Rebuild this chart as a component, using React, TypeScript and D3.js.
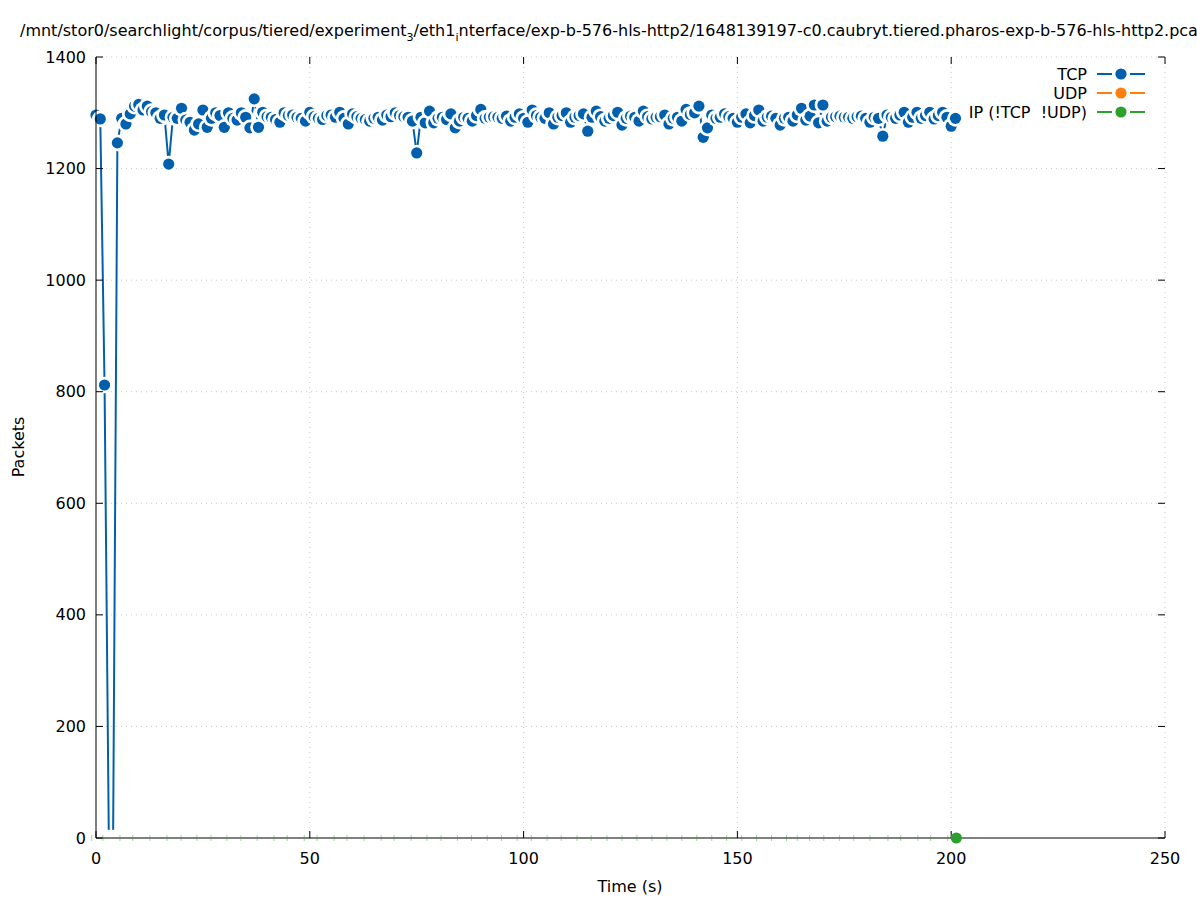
import React from 'react';
import * as d3 from 'd3';

// packets per second, one sample per second starting at t=0
const TCP_PACKETS = [
  1296, 1289, 812, 0, 0, 1246, 1290, 1280, 1298, 1312,
  1315, 1305, 1312, 1302, 1300, 1290, 1296, 1208, 1292, 1290,
  1308, 1287, 1283, 1269, 1280, 1305, 1274, 1290, 1300, 1295,
  1274, 1300, 1290, 1287, 1300, 1292, 1273, 1325, 1274, 1301,
  1293, 1292, 1288, 1283, 1300, 1295, 1296, 1292, 1290, 1285,
  1301, 1293, 1290, 1288, 1295, 1296, 1292, 1301, 1290, 1280,
  1298, 1293, 1290, 1288, 1285, 1290, 1292, 1287, 1296, 1293,
  1300, 1295, 1293, 1292, 1285, 1228, 1292, 1282, 1303, 1282,
  1290, 1292, 1288, 1298, 1273, 1285, 1292, 1290, 1285, 1295,
  1306, 1290, 1292, 1293, 1292, 1290, 1294, 1285, 1292, 1298,
  1290, 1283, 1305, 1295, 1292, 1290, 1300, 1280, 1292, 1295,
  1300, 1283, 1292, 1295, 1298, 1267, 1292, 1303, 1293, 1285,
  1290, 1295, 1301, 1278, 1290, 1294, 1292, 1285, 1303, 1293,
  1289, 1292, 1293, 1296, 1280, 1290, 1292, 1285, 1306, 1297,
  1300, 1312, 1256, 1273, 1296, 1290, 1292, 1298, 1293, 1290,
  1283, 1292, 1298, 1282, 1295, 1305, 1285, 1292, 1294, 1290,
  1278, 1290, 1292, 1285, 1296, 1308, 1287, 1294, 1314, 1282,
  1314, 1285, 1292, 1293, 1294, 1292, 1292, 1290, 1293, 1294,
  1290, 1283, 1292, 1290, 1258, 1296, 1292, 1290, 1296, 1301,
  1283, 1292, 1301, 1290, 1295, 1301, 1289, 1295, 1301, 1292,
  1276, 1290
];

// IP (!TCP !UDP): zero samples, visible only as faint marks on the axis
const IP_OTHER_TIMES = [
  -1, 1.6, 5.6, 8.6, 12.6, 16.6, 19.9, 23.6, 26.9, 30.6, 33.9, 37.7, 41.6, 44.7,
  48.7, 51.7, 55.7, 58.7, 62.7, 66.7, 69.7, 73.7, 77.4, 80.7, 84.5, 87.8, 91.5,
  94.8, 98.5, 101.8, 105.5, 108.8, 112.5, 115.8, 119.5, 123, 126.5, 130, 133.5,
  137, 140.5, 144, 147.5, 151, 154.5, 158, 161.5, 164, 166.9, 170.2, 173.9,
  177.2, 181, 185.2, 188.2, 192.2, 195.2, 199.2
];
const IP_OTHER_LAST = { t: 201.2, v: 0 };

const X_TICKS = [0, 50, 100, 150, 200, 250];
const Y_TICKS = [0, 200, 400, 600, 800, 1000, 1200, 1400];

const LEGEND = [
  { label: 'TCP', color: '#0060ad' },
  { label: 'UDP', color: '#ff7f0e' },
  { label: 'IP (!TCP\u00a0\u00a0!UDP)', color: '#2ca02c' },
];

const FONT = 'DejaVu Sans, sans-serif';
const W = 1197;
const H = 900;
const plot = { left: 96, right: 1165, top: 57, bottom: 838 };
const TICK = 7;

const App: React.FC = () => {
  const x = d3.scaleLinear().domain([0, 250]).range([plot.left, plot.right]);
  const y = d3.scaleLinear().domain([0, 1400]).range([plot.bottom, plot.top]);

  const tcp = TCP_PACKETS.map((v, i) => ({ t: i, v }));
  const line = d3.line<{ t: number; v: number }>()
    .x(d => x(d.t))
    .y(d => y(d.v));

  return (
    <svg width={W} height={H} style={{ position: 'absolute', left: 0, top: 0, background: '#fff' }}
      fontFamily={FONT}>
      {/* grid */}
      <g stroke="#c8c8c8" strokeWidth={1} strokeDasharray="1,4">
        {X_TICKS.filter(t => t > 0).map(t => (
          <line key={'gx' + t} x1={x(t)} x2={x(t)} y1={plot.top} y2={plot.bottom} />
        ))}
        {Y_TICKS.filter(t => t > 0).map(t => (
          <line key={'gy' + t} x1={plot.left} x2={plot.right} y1={y(t)} y2={y(t)} />
        ))}
      </g>

      {/* TCP line + points (white halo under each point hides the line ends) */}
      <path d={line(tcp) || ''} fill="none" stroke="#0060ad" strokeWidth={2} strokeLinejoin="round" />
      {tcp.map(d => (
        <g key={'p' + d.t}>
          <circle cx={x(d.t)} cy={y(d.v)} r={8.3} fill="#fff" />
          {d.v > 0 && <circle cx={x(d.t)} cy={y(d.v)} r={5.6} fill="#0060ad" />}
        </g>
      ))}

      {/* border (left + bottom) and mirrored ticks */}
      <g stroke="#000" strokeWidth={1}>
        <line x1={plot.left} x2={plot.left} y1={plot.top} y2={plot.bottom} />
        <line x1={plot.left} x2={plot.right} y1={plot.bottom} y2={plot.bottom} />
        {Y_TICKS.map(t => (
          <g key={'ty' + t}>
            <line x1={plot.left} x2={plot.left + TICK} y1={y(t)} y2={y(t)} />
            <line x1={plot.right - TICK} x2={plot.right} y1={y(t)} y2={y(t)} />
          </g>
        ))}
        {X_TICKS.map(t => (
          <g key={'tx' + t}>
            <line x1={x(t)} x2={x(t)} y1={plot.bottom} y2={plot.bottom - TICK} />
            <line x1={x(t)} x2={x(t)} y1={plot.top} y2={plot.top + TICK} />
          </g>
        ))}
      </g>

      {/* IP other series */}
      <g stroke="#2ca02c" strokeOpacity={0.45} strokeWidth={1}>
        {IP_OTHER_TIMES.map(t => (
          <line key={'ip' + t} x1={x(t)} x2={x(t)} y1={y(0) - 3} y2={y(0) + 3} />
        ))}
      </g>
      <circle cx={x(IP_OTHER_LAST.t)} cy={y(IP_OTHER_LAST.v)} r={5.6} fill="#2ca02c" />

      {/* tick labels */}
      <g fontSize={16} fill="#000">
        {Y_TICKS.map(t => (
          <text key={'ly' + t} x={plot.left - 10} y={y(t)} dy="0.35em" textAnchor="end">{t}</text>
        ))}
        {X_TICKS.map(t => (
          <text key={'lx' + t} x={x(t)} y={plot.bottom + 26} textAnchor="middle">{t}</text>
        ))}
      </g>

      {/* axis labels */}
      <text x={630} y={892} fontSize={16} textAnchor="middle">Time (s)</text>
      <text transform="translate(24,447) rotate(-90)" fontSize={16} textAnchor="middle">Packets</text>

      {/* title (cut at the right edge, as in the original) */}
      <text x={20} y={36} fontSize={16}>
        /mnt/stor0/searchlight/corpus/tiered/experiment
        <tspan fontSize={11} dy={5}>3</tspan>
        <tspan dy={-5}>/eth1</tspan>
        <tspan fontSize={11} dy={5}>i</tspan>
        <tspan dy={-5}>nterface/exp-b-576-hls-http2/1648139197-c0.caubryt.tiered.pharos-exp-b-576-hls-http2.pcap</tspan>
      </text>

      {/* legend */}
      {LEGEND.map((l, i) => {
        const ly = 74 + i * 19;
        return (
          <g key={l.label}>
            <text x={1087} y={ly} dy="0.35em" fontSize={16} textAnchor="end">{l.label}</text>
            <line x1={1097} x2={1112} y1={ly} y2={ly} stroke={l.color} strokeWidth={2} />
            <line x1={1130} x2={1145} y1={ly} y2={ly} stroke={l.color} strokeWidth={2} />
            <circle cx={1121} cy={ly} r={5.6} fill={l.color} />
          </g>
        );
      })}
    </svg>
  );
};

export default App;
